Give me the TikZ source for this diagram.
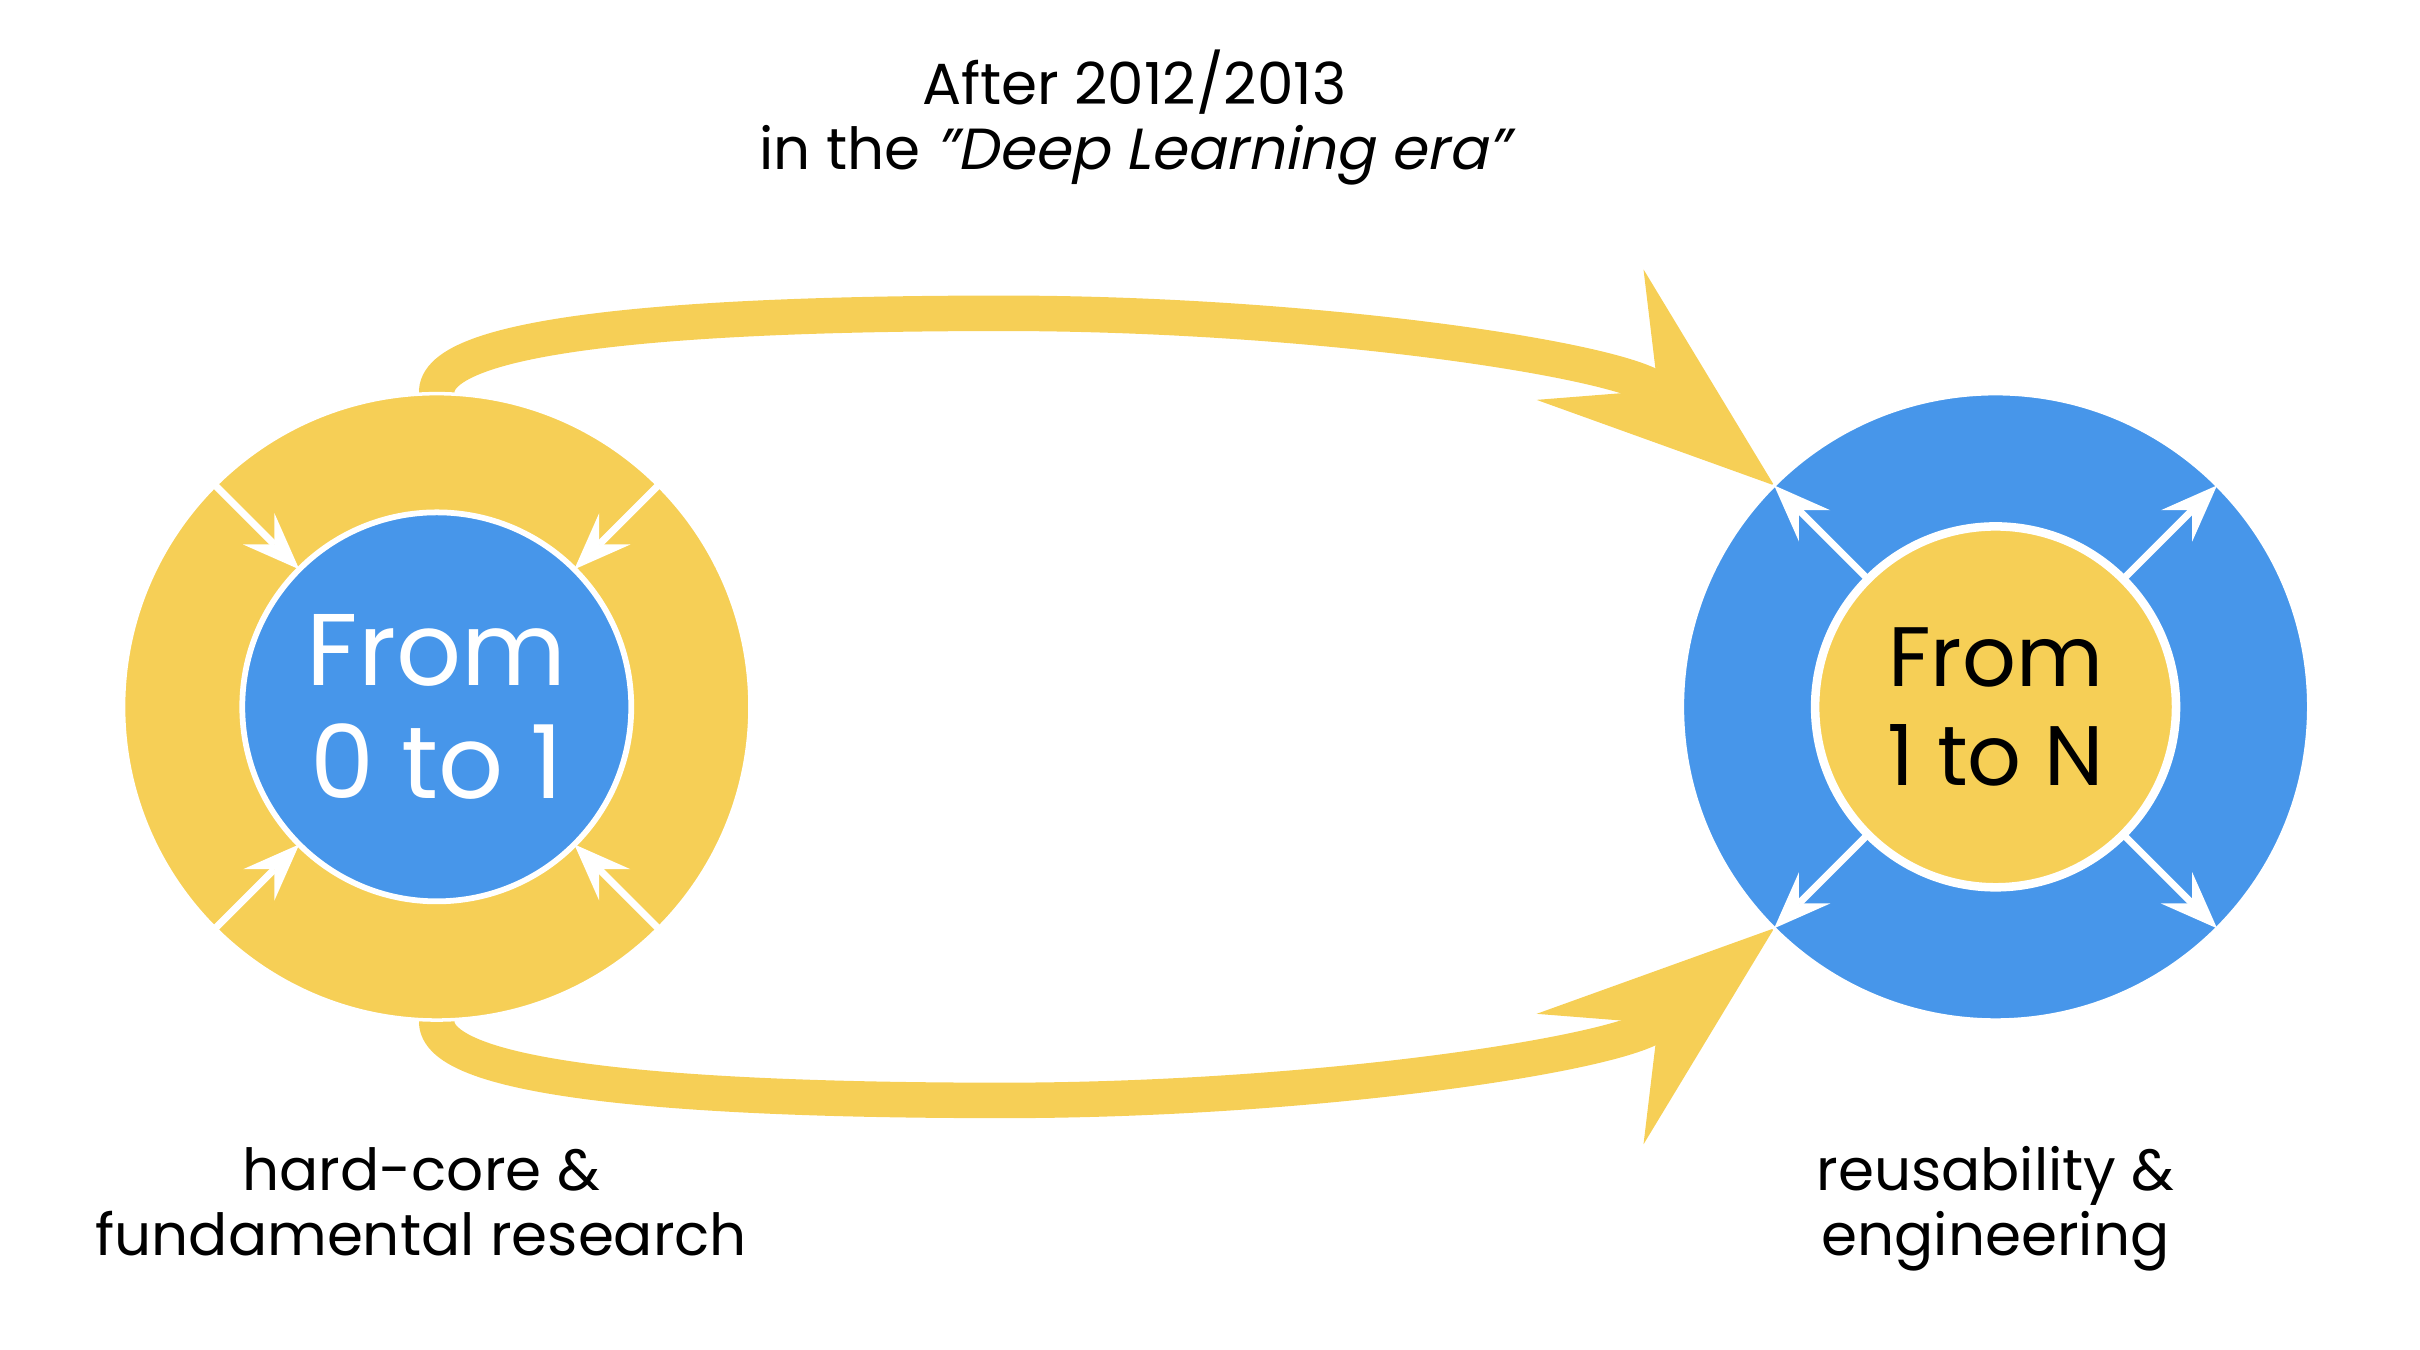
\documentclass[tikz,border=0pt]{standalone}
\usepackage{fontspec}
\setmainfont{Poppins}[AutoFakeSlant=0.2]
\usetikzlibrary{arrows.meta,positioning,backgrounds}
\definecolor{sunyellow}{RGB}{246,207,86}
\definecolor{skyblue}{RGB}{71,150,234}

\begin{document}
\begin{tikzpicture}[x=0.15434mm, y=-0.15434mm,
ring/.style = {circle, minimum size=62.64mm, inner sep=0pt, outer sep=0pt, draw=white, line width=1pt},
core/.style = {circle, inner sep=0pt, outer sep=0pt, draw=white, align=center},
spoke/.style = {white, line width=2pt, -{Stealth[length=16.3pt, width=12.6pt, inset=6.3pt, line width=0pt]}},
flow/.style = {sunyellow, line width=10.1pt, -{Stealth[length=67.7pt, width=48pt, inset=25pt, line width=0pt]}},
caption/.style = {align=center, font=\fontsize{16.5}{18.5}\selectfont}]
    \useasboundingbox (0,0) rectangle (1568,874.7);
    % left: from 0 to 1
    \node [ring, fill=sunyellow]      (L)   at (283,458) {};
    \node [core, fill=skyblue, minimum size=38.9mm, line width=1.64pt, text=white,
           font=\fontsize{29}{32}\selectfont]  (L0)  at (L) {From\\0 to 1};
    % right: from 1 to N
    \node [ring, fill=skyblue]        (R)   at (1293,458) {};
    \node [core, fill=sunyellow, minimum size=36.09mm, line width=2.43pt,
           font=\fontsize{24}{28}\selectfont]  (R0)  at (R) {From\\1 to N};
    \foreach \a in {45,135,-45,-135} {
        \draw[spoke] (L.\a) -- (L0.\a);
        \draw[spoke] (R0.\a) -- (R.\a);
    }
    \begin{pgfonlayer}{background}
    \draw[flow] (L.north) .. controls (280,215) and (450,203) .. (650,203)
                          .. controls (850,203) and (1050,233) .. (R.135);
    \draw[flow] (L.south) .. controls (280,701) and (450,713) .. (650,713)
                          .. controls (850,713) and (1050,683) .. (R.-135);
    \end{pgfonlayer}
    % captions
    \node [caption] (era)         at (735,76)   {After 2012/2013\\in the \textit{"Deep Learning era"}};
    \node [caption] (research)    at (273,779)  {hard-core \&\\fundamental research};
    \node [caption] (engineering) at (1293,783) {reusability \&\\engineering};
\end{tikzpicture}
\end{document}
